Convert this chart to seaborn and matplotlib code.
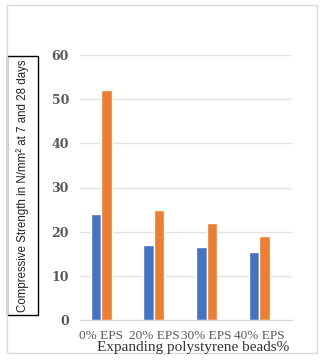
import matplotlib
matplotlib.use("Agg")
import matplotlib.pyplot as plt
import seaborn as sns
import pandas as pd
from matplotlib.patches import Rectangle

categories = ["0% EPS", "20% EPS", "30% EPS", "40% EPS"]
series_names = ["7 days", "28 days"]
strength_7 = [24, 17, 16.6, 15.5]
strength_28 = [52, 25, 22, 19]
y_ticks = [0, 10, 20, 30, 40, 50, 60]

df = pd.DataFrame({
    "cat": categories * 2,
    "series": [series_names[0]] * 4 + [series_names[1]] * 4,
    "val": strength_7 + strength_28,
})

sns.set_style("white")
W, H = 324, 362
fig = plt.figure(figsize=(W / 100, H / 100), dpi=100)
ax = fig.add_axes([80 / W, 1 - 320 / H, 212 / W, 265 / H])

sns.barplot(data=df, x="cat", y="val", hue="series", order=categories,
            palette=["#4472C4", "#ED7D31"], width=0.4, dodge=True,
            saturation=1, ax=ax, legend=False, errorbar=None)

ax.set_ylim(0, 60)
ax.set_xlim(-0.4, 3.62)
ax.set_yticks(y_ticks)
ax.set_yticklabels([str(t) for t in y_ticks], family="DejaVu Serif",
                   fontweight="bold", fontsize=9, color="#595959")
ax.set_xticks(range(len(categories)))
ax.set_xticklabels(categories, family="Liberation Serif", fontsize=9.5,
                   color="#595959")
ax.tick_params(axis="both", length=0)
ax.tick_params(axis="y", pad=8)
ax.tick_params(axis="x", pad=7.5)
ax.yaxis.grid(True, color="#e3e3e3", linewidth=1)
ax.set_axisbelow(True)
for s in ["top", "right", "left"]:
    ax.spines[s].set_visible(False)
ax.spines["bottom"].set_color("#d9d9d9")
ax.set_xlabel("")
ax.set_ylabel("")

fig.text(193 / W, 1 - 347 / H, "Expanding polystyrene beads%",
         family="Liberation Serif", fontsize=11, color="#333333",
         ha="center", va="center")

# y-label box
fig.patches.append(Rectangle((7 / W, 1 - 315 / H), 31 / W, 259 / H,
                             transform=fig.transFigure, fill=False,
                             edgecolor="black", linewidth=1))
fig.text(22.5 / W, 1 - 186 / H,
         "Compressive Strength in N/mm\u00b2 at 7 and 28 days",
         family="Liberation Sans", fontsize=8.3, color="#222222",
         rotation=90, ha="center", va="center")

# outer border
fig.patches.append(Rectangle((7 / W, 1 - 353 / H), 310 / W, 348 / H,
                             transform=fig.transFigure, fill=False,
                             edgecolor="#d9d9d9", linewidth=1))

fig.savefig("out.png", dpi=100)
